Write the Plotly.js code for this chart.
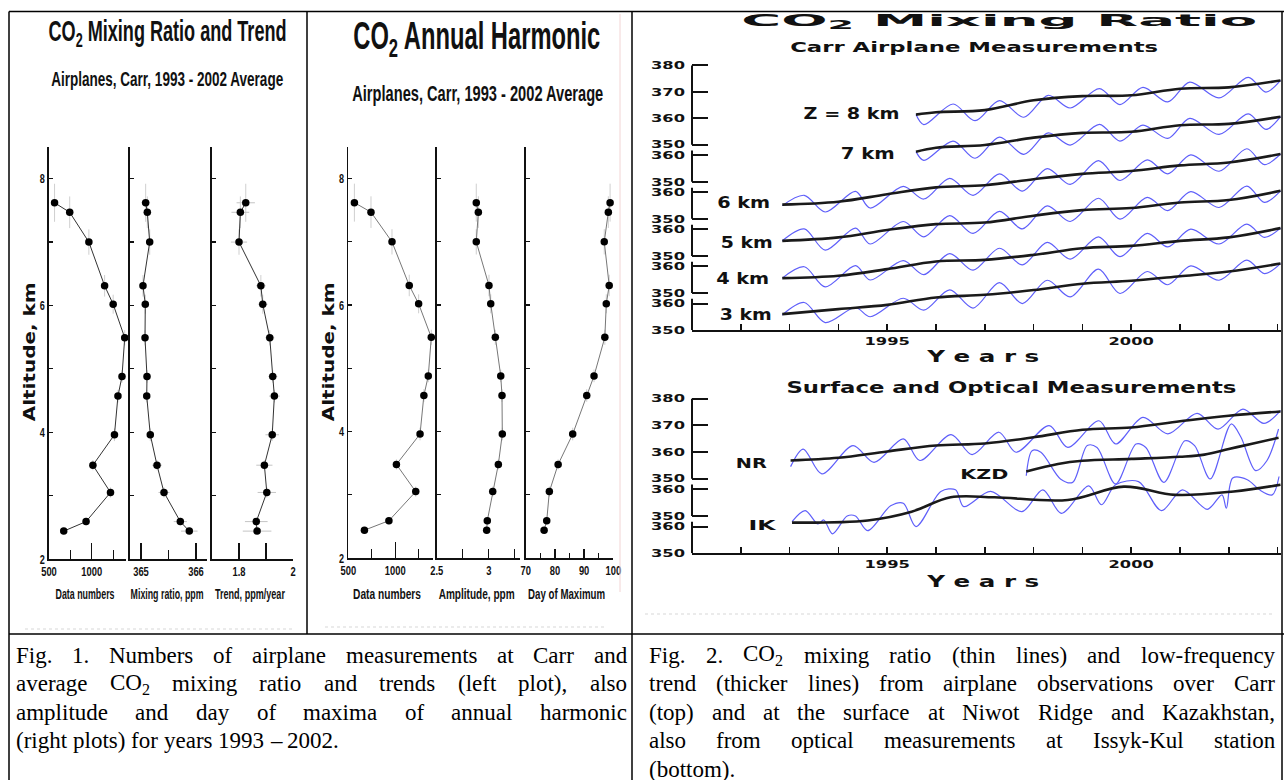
<!DOCTYPE html>
<html><head><meta charset="utf-8">
<script src="https://cdn.plot.ly/plotly-3.0.1.min.js"></script>
<style>html,body{margin:0;padding:0;background:#fff;}#chart{width:1284px;height:780px;}</style>
</head><body><div id="chart"></div>
<script>
// ---------------- Fig. 1 data (altitude profiles, Carr 1993-2002) ----------------
const altitudes   = [7.62, 7.47, 7.00, 6.31, 6.02, 5.49, 4.88, 4.57, 3.96, 3.48, 3.05, 2.59, 2.44];
const altErr      = [0.30, 0.25, 0.20, 0.17, 0.15, 0.12, 0.10, 0.10, 0.10, 0.08, 0.08, 0.06, 0.05];
const dataNumbers = [565, 742, 966, 1150, 1250, 1385, 1353, 1306, 1265, 1013, 1219, 933, 672];
const mixingRatio = [365.085, 365.115, 365.158, 365.036, 365.078, 365.073, 365.109, 365.104, 365.169, 365.291, 365.418, 365.715, 365.878];
const mixingErr   = [0.08, 0.07, 0.06, 0.05, 0.05, 0.04, 0.05, 0.05, 0.06, 0.09, 0.10, 0.12, 0.15];
const trendRate   = [1.825, 1.805, 1.800, 1.881, 1.888, 1.914, 1.925, 1.931, 1.923, 1.894, 1.903, 1.864, 1.867];
const trendErr    = [0.034, 0.033, 0.030, 0.018, 0.018, 0.017, 0.017, 0.020, 0.025, 0.030, 0.034, 0.042, 0.053];
const amplitude   = [2.880, 2.900, 2.880, 3.002, 3.019, 3.063, 3.115, 3.127, 3.130, 3.092, 3.038, 2.986, 2.980];
const dayOfMax    = [98.9, 98.3, 96.9, 98.6, 97.6, 97.1, 93.4, 90.9, 86.1, 81.1, 78.1, 77.2, 76.3];

// ---------------- Fig. 2 data (CO2 mixing ratio, ppm) ----------------
const yearsHigh = [1995.59, 1995.75, 1996.35, 1996.8, 1997.3, 1997.8, 1998.3, 1998.75, 1999.35, 1999.77, 2000.24, 2000.75, 2001.2, 2001.8, 2002.4, 2002.76, 2003.06];
const co2Z8 = [361.4, 357.6, 365.4, 359.1, 366.7, 360.4, 368.7, 363.9, 371.2, 365.2, 371.7, 366.2, 373.7, 367.7, 375.5, 369.9, 374.3];
const co2Z7 = [361.4, 358.1, 365.4, 358.9, 366.9, 360.4, 368.5, 363.9, 371.7, 365.4, 371.4, 366.4, 374.0, 367.9, 375.7, 369.8, 374.6];
const trendYearsHigh = [1995.59, 1996, 1997, 1998, 1999, 2000, 2001, 2002, 2003.06];
const trendZ8 = [361.4, 362.3, 363.1, 366.8, 368.4, 368.7, 371.2, 371.7, 374.3];
const trendZ7 = [361.4, 362.9, 363.9, 366.7, 368.5, 368.9, 371.4, 371.9, 374.6];

const yearsLow = [1992.85, 1993.3, 1993.73, 1994.35, 1994.65, 1995.33, 1995.75, 1996.28, 1996.76, 1997.3, 1997.77, 1998.28, 1998.75, 1999.33, 1999.77, 2000.33, 2000.75, 2001.22, 2001.8, 2002.37, 2002.73, 2003.06];
const co2Z6 = [355.0, 358.9, 352.6, 360.4, 354.1, 362.3, 357.5, 365.3, 358.9, 367.0, 360.5, 369.0, 363.0, 372.0, 364.5, 372.3, 367.0, 374.2, 368.0, 376.5, 370.5, 374.5];
const co2Z5 = [355.7, 360.2, 352.2, 360.5, 354.5, 363.0, 357.2, 365.2, 358.5, 366.8, 360.2, 368.9, 363.0, 371.8, 363.9, 372.1, 367.1, 374.3, 368.3, 376.4, 370.2, 374.6];
const co2Z4 = [355.6, 359.9, 352.3, 360.3, 354.9, 362.2, 356.9, 364.9, 358.6, 366.9, 360.6, 369.1, 362.8, 371.2, 363.7, 372.5, 367.4, 374.1, 368.5, 376.0, 371.0, 374.5];
const co2Z3 = [355.7, 360.4, 352.8, 358.5, 355.0, 362.0, 357.5, 365.2, 358.3, 367.9, 360.0, 368.8, 362.5, 373.0, 363.8, 372.1, 367.1, 374.2, 368.8, 376.4, 371.3, 375.1];
const trendYearsLow = [1992.85, 1994, 1995, 1996, 1997, 1998, 1999, 2000, 2001, 2002, 2003.06];
const trendZ6 = [355.4, 356.5, 359.3, 361.9, 362.7, 365.0, 367.0, 368.1, 370.2, 371.3, 374.5];
const trendZ5 = [355.7, 357.0, 359.8, 362.0, 362.6, 365.2, 367.3, 368.1, 370.2, 371.1, 374.6];
const trendZ4 = [355.6, 356.5, 359.0, 361.9, 362.5, 364.4, 366.9, 367.8, 369.7, 371.0, 374.5];
const trendZ3 = [356.0, 357.9, 359.5, 362.3, 363.3, 365.1, 367.5, 368.6, 370.3, 372.1, 375.1];

const yearsNR = [1993.02, 1993.28, 1993.66, 1994.3, 1994.73, 1995.33, 1995.67, 1996.31, 1996.74, 1997.29, 1997.64, 1998.32, 1998.7, 1999.34, 1999.68, 2000.24, 2000.75, 2001.35, 2001.78, 2002.29, 2002.72, 2003.06];
const co2NR = [354.5, 361.1, 351.8, 362.4, 356.1, 364.9, 356.8, 366.5, 359.0, 367.4, 359.9, 369.9, 361.7, 371.7, 363.0, 373.0, 366.8, 374.5, 368.6, 376.1, 370.7, 375.5];
const trendYearsNR = [1993.02, 1994, 1995, 1996, 1997, 1998, 1999, 2000, 2001, 2002, 2003.06];
const trendNR = [356.8, 357.8, 360.2, 362.4, 363.2, 365.5, 368.3, 369.2, 371.5, 373.6, 375.2];

const yearsKZD = [1997.85, 1997.97, 1998.15, 1998.55, 1998.8, 1999.1, 1999.3, 1999.68, 2000.1, 2000.3, 2000.67, 2001.1, 2001.3, 2001.62, 2002.05, 2002.25, 2002.55, 2002.78, 2003.02];
const co2KZD = [365.1, 374.5, 373.9, 363.9, 362.6, 376.4, 375.7, 362.0, 377.0, 375.7, 362.6, 378.2, 376.4, 363.9, 384.5, 379.5, 367.0, 370.7, 382.6];
const trendYearsKZD = [1997.85, 1998.5, 1999, 2000, 2001, 2001.5, 2002, 2002.5, 2003.02];
const trendKZD = [366.7, 369.5, 370.7, 371.4, 372.2, 373.0, 375.1, 377.2, 379.3];

const yearsIK = [1993.05, 1993.32, 1993.58, 1993.7, 1993.88, 1994.18, 1994.35, 1994.6, 1995.07, 1995.33, 1995.59, 1996.1, 1996.4, 1996.57, 1997.12, 1997.76, 1998.19, 1998.57, 1999.13, 1999.39, 1999.68, 2000.15, 2000.62, 2001.05, 2001.56, 2001.86, 2001.95, 2002.08, 2002.38, 2002.63, 2002.89, 2003.03];
const co2IK = [361.9, 366.0, 361.0, 362.5, 357.3, 364.0, 364.0, 358.5, 367.8, 368.8, 360.0, 373.2, 373.8, 367.5, 373.2, 365.6, 373.8, 365.0, 375.3, 368.2, 375.7, 376.9, 366.0, 373.8, 366.5, 371.9, 366.9, 378.2, 377.6, 373.8, 371.9, 378.8];
const trendYearsIK = [1993.05, 1994.6, 1995.5, 1996.3, 1997.2, 1998.7, 1999.85, 2000.9, 2002.1, 2003.06];
const trendIK = [361.5, 362.3, 365.6, 371.0, 371.0, 370.0, 375.0, 371.9, 373.2, 375.7];

const yearLabels = [1995, 2000];
const yearMinor = [1992, 1993, 1994, 1996, 1997, 1998, 1999, 2001, 2002, 2003];

const captionLeft = [
  "Fig. 1. Numbers of airplane measurements at Carr and",
  "average CO<sub>2</sub> mixing ratio and trends (left plot), also",
  "amplitude and day of maxima of annual harmonic",
  "(right plots) for years 1993 – 2002."
];
const captionRight = [
  "Fig. 2. CO<sub>2</sub> mixing ratio (thin lines) and low-frequency",
  "trend (thicker lines) from airplane observations over Carr",
  "(top) and at the surface at Niwot Ridge and Kazakhstan,",
  "also from optical measurements at Issyk-Kul station",
  "(bottom)."
];

// ---------------- layout helpers ----------------
const W = 1284, H = 780;
const PX = v => v / W;
const PY = v => 1 - v / H;
const NARROW = 'Liberation Sans';
const WIDE = 'DejaVu Sans';
const SERIF = 'Liberation Serif';
const INK = '#111';

// stacked-axis offsets (Fig. 2)
const topOffsets = {z8: 0, z7: -14, z6: -28, z5: -42, z4: -56, z3: -70};
const botOffsets = {nr: 0, kzd: -14, ik: -28};

const traces = [];
function profile(xv, xa, ya, errX, lineColor) {
  traces.push({
    type: 'scatter', mode: 'lines+markers', x: xv, y: altitudes, xaxis: xa, yaxis: ya,
    line: {color: lineColor, width: 1},
    marker: {color: '#000', size: 7.5},
    error_y: {type: 'data', array: altErr, color: '#cfcfcf', thickness: 1, width: 0},
    error_x: errX ? {type: 'data', array: errX, color: '#c4c4c4', thickness: 1, width: 0} : {visible: false},
    cliponaxis: false, hoverinfo: 'skip', showlegend: false
  });
}
profile(dataNumbers, 'x', 'y', null, '#333');
profile(mixingRatio, 'x2', 'y2', mixingErr, '#333');
profile(trendRate, 'x3', 'y3', trendErr, '#333');
profile(dataNumbers, 'x4', 'y4', null, '#777');
profile(amplitude, 'x5', 'y5', null, '#777');
profile(dayOfMax, 'x6', 'y6', null, '#777');

const BLUE = 'rgb(95,95,250)';
function series(xs, ys, off, xa, ya, kind) {
  traces.push({
    type: 'scatter', mode: 'lines', x: xs, y: ys.map(v => v + off), xaxis: xa, yaxis: ya,
    line: kind === 'raw' ? {color: BLUE, width: 1.2, shape: 'spline', smoothing: 0.9}
                         : {color: '#1a1a1a', width: 2.6, shape: 'spline', smoothing: 1},
    hoverinfo: 'skip', showlegend: false
  });
}
series(yearsHigh, co2Z8, topOffsets.z8, 'x7', 'y7', 'raw');
series(yearsHigh, co2Z7, topOffsets.z7, 'x7', 'y7', 'raw');
series(yearsLow, co2Z6, topOffsets.z6, 'x7', 'y7', 'raw');
series(yearsLow, co2Z5, topOffsets.z5, 'x7', 'y7', 'raw');
series(yearsLow, co2Z4, topOffsets.z4, 'x7', 'y7', 'raw');
series(yearsLow, co2Z3, topOffsets.z3, 'x7', 'y7', 'raw');
series(trendYearsHigh, trendZ8, topOffsets.z8, 'x7', 'y7', 'trend');
series(trendYearsHigh, trendZ7, topOffsets.z7, 'x7', 'y7', 'trend');
series(trendYearsLow, trendZ6, topOffsets.z6, 'x7', 'y7', 'trend');
series(trendYearsLow, trendZ5, topOffsets.z5, 'x7', 'y7', 'trend');
series(trendYearsLow, trendZ4, topOffsets.z4, 'x7', 'y7', 'trend');
series(trendYearsLow, trendZ3, topOffsets.z3, 'x7', 'y7', 'trend');
series(yearsNR, co2NR, botOffsets.nr, 'x8', 'y8', 'raw');
series(yearsKZD, co2KZD, botOffsets.kzd, 'x8', 'y8', 'raw');
series(yearsIK, co2IK, botOffsets.ik, 'x8', 'y8', 'raw');
series(trendYearsNR, trendNR, botOffsets.nr, 'x8', 'y8', 'trend');
series(trendYearsKZD, trendKZD, botOffsets.kzd, 'x8', 'y8', 'trend');
series(trendYearsIK, trendIK, botOffsets.ik, 'x8', 'y8', 'trend');

// ---------------- axes ----------------
const tickFontN = {family: NARROW, size: 13, color: INK, weight: 'bold'};
function profX(dom, range, anchor, major, minorVals, majLen, minLen) {
  return {
    domain: [PX(dom[0]), PX(dom[1])], range: range, anchor: anchor,
    showgrid: false, zeroline: false, showline: true, linecolor: INK, linewidth: 1.6,
    tickmode: 'array', tickvals: major, ticktext: major.map(String),
    ticks: 'inside', ticklen: majLen, tickwidth: 1.2, tickcolor: INK, tickfont: tickFontN,
    minor: minorVals ? {tickmode: 'array', tickvals: minorVals, ticks: 'inside', ticklen: minLen, tickwidth: 1.2, tickcolor: INK, showgrid: false} : undefined,
    fixedrange: true
  };
}
function profY(dom, anchor, labels) {
  return {
    domain: [PY(dom[1]), PY(dom[0])], range: [2, 8.5], anchor: anchor,
    showgrid: false, zeroline: false, showline: true, linecolor: INK, linewidth: 1.6,
    tickmode: 'array', tickvals: [2, 4, 6, 8], ticktext: ['2', '4', '6', '8'],
    ticks: 'inside', ticklen: 4, tickwidth: 1.2, tickcolor: INK, tickfont: tickFontN,
    minor: {tickmode: 'array', tickvals: [3, 5, 7], ticks: 'inside', ticklen: 4, tickwidth: 1.2, tickcolor: INK, showgrid: false},
    showticklabels: labels, fixedrange: true
  };
}
const LEFT_Y = [147, 559], MID_Y = [147, 558];

function segTicks(offsets) {
  const vals = [], txt = [];
  Object.values(offsets).forEach(o => { vals.push(360 + o, 350 + o); txt.push('360', '350'); });
  return {vals, txt};
}
const topT = segTicks(topOffsets); topT.vals.push(380, 370); topT.txt.push('380', '370');
const botT = segTicks(botOffsets); botT.vals.push(380, 370); botT.txt.push('380', '370');
const tickFontW = {family: WIDE, size: 10.5, color: INK, weight: 'bold'};
function yearAxis(dom, anchor) {
  return {
    domain: [PX(dom[0]), PX(dom[1])], range: [1991, 2003.07], anchor: anchor,
    showgrid: false, zeroline: false, showline: true, linecolor: INK, linewidth: 2,
    tickmode: 'array', tickvals: yearLabels, ticktext: yearLabels.map(String),
    ticks: 'inside', ticklen: 6, tickwidth: 1.6, tickcolor: INK, tickfont: tickFontW,
    minor: {tickmode: 'array', tickvals: yearMinor, ticks: 'inside', ticklen: 6, tickwidth: 1.6, tickcolor: INK, showgrid: false},
    fixedrange: true
  };
}
function concAxis(domPx, range, anchor, t) {
  return {
    domain: [PY(domPx[1]), PY(domPx[0])], range: range, anchor: anchor,
    showgrid: false, zeroline: false, showline: false,
    tickmode: 'array', tickvals: t.vals, ticktext: t.txt,
    ticks: 'inside', ticklen: 16, tickwidth: 2, tickcolor: INK, tickfont: tickFontW,
    ticklabelstandoff: 6, fixedrange: true
  };
}

// ---------------- shapes ----------------
const shapes = [];
function line(x0, y0, x1, y1, color, width, dash) {
  shapes.push({type: 'line', xref: 'paper', yref: 'paper', x0: PX(x0), x1: PX(x1), y0: PY(y0), y1: PY(y1), line: {color: color, width: width, dash: dash || 'solid'}});
}
// table frame
line(9, 11.5, 1284, 11.5, '#000', 1.5);
line(9, 11.5, 9, 780, '#000', 1.5);
line(307, 11.5, 307, 634, '#000', 1.5);
line(632, 11.5, 632, 780, '#000', 1.5);
line(1282, 11.5, 1282, 780, '#000', 1.5);
line(9, 634, 1284, 634, '#000', 1.5);
line(620, 14, 620, 592, '#f2d4d4', 1);
line(25, 629, 295, 629, '#d8d8d8', 1.2, 'dot');
line(325, 627, 605, 627, '#d8d8d8', 1.2, 'dot');
line(645, 614, 1275, 614, '#d8d8d8', 1.2, 'dot');
// stacked y-axis segments
function segments(offsets, yref) {
  Object.values(offsets).forEach(o => {
    const top = o === 0 ? 380 : 361.8 + o;
    shapes.push({type: 'line', xref: yref.replace('y', 'x') + ' domain', yref: yref, x0: 0, x1: 0, y0: 350 + o, y1: top, line: {color: INK, width: 2}});
  });
}
segments(topOffsets, 'y7');
segments(botOffsets, 'y8');

// ---------------- text ----------------
const annSpecs = [];
function txt(text, x, y, size, family, w, o) {
  annSpecs.push(Object.assign({text, x, y, size, family, w, bold: true}, o || {}));
}
txt('CO<sub>2</sub> Mixing Ratio and Trend', 168, 33, 30, NARROW, 238);
txt('Airplanes, Carr, 1993 - 2002 Average', 167, 79, 21, NARROW, 232);
txt('Altitude, km', 30, 352, 15, WIDE, 139, {angle: -90});
txt('Data numbers', 85.5, 593, 15, NARROW, 59);
txt('Mixing ratio, ppm', 166.5, 593, 15, NARROW, 73);
txt('Trend, ppm/year', 250, 593, 15, NARROW, 70);
txt('CO<sub>2</sub> Annual Harmonic', 477, 39, 38, NARROW, 247);
txt('Airplanes, Carr, 1993 - 2002 Average', 477.5, 93, 22, NARROW, 251);
txt('Altitude, km', 329, 352, 15, WIDE, 139, {angle: -90});
txt('Data numbers', 387, 593, 15, NARROW, 68);
txt('Amplitude, ppm', 476, 593, 15, NARROW, 76);
txt('Day of Maximum', 566.5, 593, 15, NARROW, 77);

txt('CO<sub>2</sub> Mixing Ratio', 999, 21.3, 16.5, WIDE, 516);
txt('Carr Airplane Measurements', 974, 47.3, 14.5, WIDE, 368);
txt('Z = 8 km', 851, 113.5, 15, WIDE, 96);
txt('7 km', 867, 154, 15, WIDE, 54);
txt('6 km', 743.5, 203, 15, WIDE, 53);
txt('5 km', 746, 242.8, 15, WIDE, 52);
txt('4 km', 742.5, 278.8, 15, WIDE, 53);
txt('3 km', 745, 314.7, 15, WIDE, 52);
txt('Y e a r s', 982, 357, 15, WIDE, 112);
txt('Surface and Optical Measurements', 1011, 388, 15, WIDE, 450);
txt('NR', 751.5, 462.7, 14, WIDE, 31);
txt('KZD', 985, 474, 14, WIDE, 48);
txt('IK', 762.5, 524.5, 14, WIDE, 27);
txt('Y e a r s', 982, 582, 15, WIDE, 112);

// captions: justified word by word
const CAP_SIZE = 23, CAP_TOP = 655, CAP_PITCH = 28.5;
const ctx = document.createElement('canvas').getContext('2d');
function wordWidth(wd) {
  ctx.font = CAP_SIZE + 'px "' + SERIF + '"';
  const m = wd.match(/^(.*)<sub>(.*)<\/sub>(.*)$/);
  if (m) return ctx.measureText(m[1]).width + 0.7 * ctx.measureText(m[2]).width + ctx.measureText(m[3]).width;
  return ctx.measureText(wd).width;
}
function caption(lines, x0, x1) {
  ctx.font = CAP_SIZE + 'px "' + SERIF + '"';
  const space = ctx.measureText(' ').width;
  lines.forEach((ln, i) => {
    const words = ln.split(' ');
    const widths = words.map(wordWidth);
    const total = widths.reduce((a, b) => a + b, 0);
    const last = i === lines.length - 1;
    const gap = last || words.length < 2 ? space : (x1 - x0 - total) / (words.length - 1);
    let x = x0;
    words.forEach((wd, k) => {
      annSpecs.push({text: wd, x: x, y: CAP_TOP + i * CAP_PITCH, size: CAP_SIZE, family: SERIF, bold: false, xanchor: 'left', color: '#000'});
      x += widths[k] + gap;
    });
  });
}
caption(captionLeft, 15, 626);
caption(captionRight, 648, 1274);

const annotations = annSpecs.map(s => ({
  text: s.text, xref: 'paper', yref: 'paper', x: s.x / W, y: 1 - s.y / H,
  xanchor: s.xanchor || 'center', yanchor: 'middle', showarrow: false, borderpad: 0,
  textangle: s.angle || 0,
  font: {family: s.family, size: s.size, color: s.color || INK, weight: s.bold ? 'bold' : 'normal'}
}));

const layout = {
  width: W, height: H, margin: {l: 0, r: 0, t: 0, b: 0},
  paper_bgcolor: '#fff', plot_bgcolor: 'rgba(0,0,0,0)', showlegend: false,
  xaxis:  profX([49, 126], [500, 1400], 'y', [500, 1000], [750, 1250], 16, 9),
  xaxis2: profX([130, 207], [364.8, 366.2], 'y2', [365, 366], [365.5], 16, 9),
  xaxis3: profX([212, 293], [1.7, 2.0], 'y3', [1.8, 2], [1.9], 16, 16),
  xaxis4: profX([348.3, 432.7], [500, 1400], 'y4', [500, 1000], [750, 1250], 16, 9),
  xaxis5: profX([436.7, 520], [2.5, 3.3], 'y5', [2.5, 3], [2.75, 3.25], 9, 9),
  xaxis6: profX([525.7, 613.3], [70, 100], 'y6', [70, 80, 90, 100], [75, 85, 95], 9, 5),
  yaxis:  profY(LEFT_Y, 'x', true),
  yaxis2: profY(LEFT_Y, 'x2', false),
  yaxis3: profY(LEFT_Y, 'x3', false),
  yaxis4: profY(MID_Y, 'x4', true),
  yaxis5: profY(MID_Y, 'x5', false),
  yaxis6: profY(MID_Y, 'x6', false),
  xaxis7: yearAxis([692, 1281], 'y7'),
  yaxis7: concAxis([60.1, 330], [280, 382], 'x7', topT),
  xaxis8: yearAxis([692, 1281], 'y8'),
  yaxis8: concAxis([393.3, 553.3], [322, 382], 'x8', botT),
  shapes: shapes,
  annotations: annotations
};

const gd = document.getElementById('chart');
Plotly.newPlot(gd, traces, layout, {staticPlot: true, displayModeBar: false}).then(() => {
  // stretch / condense text to match the original typefaces' proportions
  gd.querySelectorAll('g.annotation').forEach(g => {
    const i = +g.getAttribute('data-index');
    const s = annSpecs[i];
    if (s && s.w) {
      const t = g.querySelector('text.annotation-text');
      if (t) { t.setAttribute('textLength', s.w); t.setAttribute('lengthAdjust', 'spacingAndGlyphs'); }
    }
  });
  function scaleTicks(cls, f) {
    gd.querySelectorAll('g.' + cls + ' text').forEach(t => {
      const w = t.getComputedTextLength();
      if (w > 0) { t.setAttribute('textLength', w * f); t.setAttribute('lengthAdjust', 'spacingAndGlyphs'); }
    });
  }
  ['xtick', 'x2tick', 'x3tick', 'x4tick', 'x5tick', 'x6tick'].forEach(c => scaleTicks(c, 0.72));
  ['ytick', 'y4tick'].forEach(c => scaleTicks(c, 0.7));
  ['x7tick', 'x8tick', 'y7tick', 'y8tick'].forEach(c => scaleTicks(c, 1.55));
});
</script>
</body></html>
